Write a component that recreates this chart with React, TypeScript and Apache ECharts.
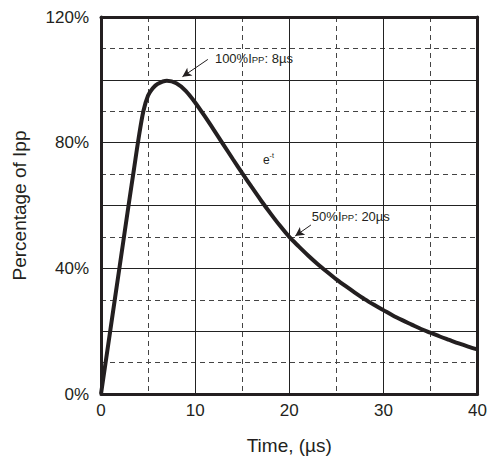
import React, { useEffect, useRef } from "react";
import * as echarts from "echarts";

// Pulse waveform: time (µs) vs percentage of Ipp
const timeUs = [0, 1, 2, 3, 3.5, 4, 4.5, 5, 5.5, 6, 7, 8, 9, 10, 11, 12, 13, 14, 15, 16, 17, 18, 19, 20, 21, 22, 23, 24, 25, 26, 27, 28, 29, 30, 31, 32, 33, 34, 35, 36, 37, 38, 39, 40];
const percentIpp = [0, 20.5, 41, 61.5, 71.5, 81.5, 90, 95, 97.3, 98.7, 99.7, 98.9, 96.5, 92.8, 88.5, 84.0, 79.4, 74.8, 70.3, 65.9, 61.6, 57.5, 53.6, 50.0, 47.0, 44.1, 41.4, 38.9, 36.5, 34.3, 32.2, 30.2, 28.4, 26.7, 25.0, 23.5, 22.1, 20.7, 19.5, 18.3, 17.2, 16.1, 15.1, 14.2];

const xTicks = [0, 10, 20, 30, 40];
const yTickLabels = [0, 40, 80, 120];

// annotations (data coordinates)
const peakArrow = [[11.35, 106.5], [8.65, 101.0]];
const peakLabelAt = [12.1, 106.8];
const halfArrow = [[22.3, 53.8], [20.63, 50.3]];
const halfLabelAt = [22.4, 56.6];
const expLabelAt = [17.2, 74.5];

const INK = "#231f20";

export default function App() {
  const ref = useRef<HTMLDivElement>(null);
  useEffect(() => {
    if (!ref.current) return;
    const chart = echarts.init(ref.current, undefined, { renderer: "svg" });
    const font = "Liberation Sans, Arial, sans-serif";
    const rich = {
      a: { fontSize: 13, color: INK, fontFamily: font },
      s: { fontSize: 9.5, color: INK, fontFamily: font, padding: [2, 0, 0, 0] },
      e: { fontSize: 12, color: INK, fontFamily: font },
      sup: { fontSize: 7, color: INK, fontFamily: font, padding: [0, 0, 9, 0] },
    };
    chart.setOption({
      animation: false,
      backgroundColor: "#ffffff",
      grid: { left: 101, right: 11, top: 17, bottom: 72, containLabel: false },
      xAxis: [
        {
          type: "value",
          min: 0,
          max: 40,
          interval: 10,
          name: "Time, (µs)",
          nameLocation: "middle",
          nameGap: 42,
          nameTextStyle: { fontSize: 19, color: INK, fontFamily: font },
          axisLine: { show: true, onZero: false, lineStyle: { color: INK, width: 3 } },
          axisTick: { show: false },
          axisLabel: {
            fontSize: 17,
            color: INK,
            fontFamily: font,
            margin: 8,
            formatter: (v: number) => (xTicks.includes(v) ? String(v) : ""),
          },
          splitLine: { show: true, lineStyle: { color: "#222", width: 1, type: "solid" } },
          minorTick: { show: false, splitNumber: 2 },
          minorSplitLine: { show: true, lineStyle: { color: "#444", width: 1, type: [5, 4] } },
        },
        {
          type: "value",
          position: "top",
          min: 0,
          max: 40,
          interval: 10,
          axisLine: { show: true, onZero: false, lineStyle: { color: INK, width: 3 } },
          axisTick: { show: false },
          axisLabel: { show: false },
          splitLine: { show: false },
        },
      ],
      yAxis: [
        {
          type: "value",
          min: 0,
          max: 120,
          interval: 20,
          name: "Percentage of Ipp",
          nameLocation: "middle",
          nameGap: 72,
          nameTextStyle: { fontSize: 19, color: INK, fontFamily: font },
          axisLine: { show: true, onZero: false, lineStyle: { color: INK, width: 3 } },
          axisTick: { show: false },
          axisLabel: {
            fontSize: 17,
            color: INK,
            fontFamily: font,
            margin: 12,
            formatter: (v: number) => (yTickLabels.includes(v) ? v + "%" : ""),
          },
          splitLine: { show: true, lineStyle: { color: "#222", width: 1, type: "solid" } },
          minorTick: { show: false, splitNumber: 2 },
          minorSplitLine: { show: true, lineStyle: { color: "#444", width: 1, type: [5, 4] } },
        },
        {
          type: "value",
          position: "right",
          min: 0,
          max: 120,
          interval: 20,
          axisLine: { show: true, onZero: false, lineStyle: { color: INK, width: 3 } },
          axisTick: { show: false },
          axisLabel: { show: false },
          splitLine: { show: false },
        },
      ],
      series: [
        {
          type: "line",
          xAxisIndex: 0,
          yAxisIndex: 0,
          data: timeUs.map((t, i) => [t, percentIpp[i]]),
          smooth: 0.3,
          showSymbol: false,
          lineStyle: { color: INK, width: 4 },
          z: 5,
          markLine: {
            silent: true,
            symbol: ["none", "arrow"],
            symbolSize: [7, 9],
            label: { show: false },
            lineStyle: { color: INK, width: 1, type: "solid" },
            data: [
              [{ coord: peakArrow[0] }, { coord: peakArrow[1] }],
              [{ coord: halfArrow[0] }, { coord: halfArrow[1] }],
            ],
          },
          markPoint: {
            silent: true,
            symbol: "circle",
            symbolSize: 0,
            data: [
              {
                coord: peakLabelAt,
                label: {
                  show: true,
                  position: "right",
                  distance: 0,
                  formatter: "{a|100%I}{s|PP}{a|: 8µs}",
                  rich,
                },
              },
              {
                coord: halfLabelAt,
                label: {
                  show: true,
                  position: "right",
                  distance: 0,
                  formatter: "{a|50%I}{s|PP}{a|: 20µs}",
                  rich,
                },
              },
              {
                coord: expLabelAt,
                label: {
                  show: true,
                  position: "right",
                  distance: 0,
                  formatter: "{e|e}{sup|-t}",
                  rich,
                },
              },
            ],
          },
        },
      ],
    });
    return () => chart.dispose();
  }, []);
  return (
    <div
      ref={ref}
      style={{ position: "fixed", left: 0, top: 0, width: 490, height: 466, background: "#fff" }}
    />
  );
}
